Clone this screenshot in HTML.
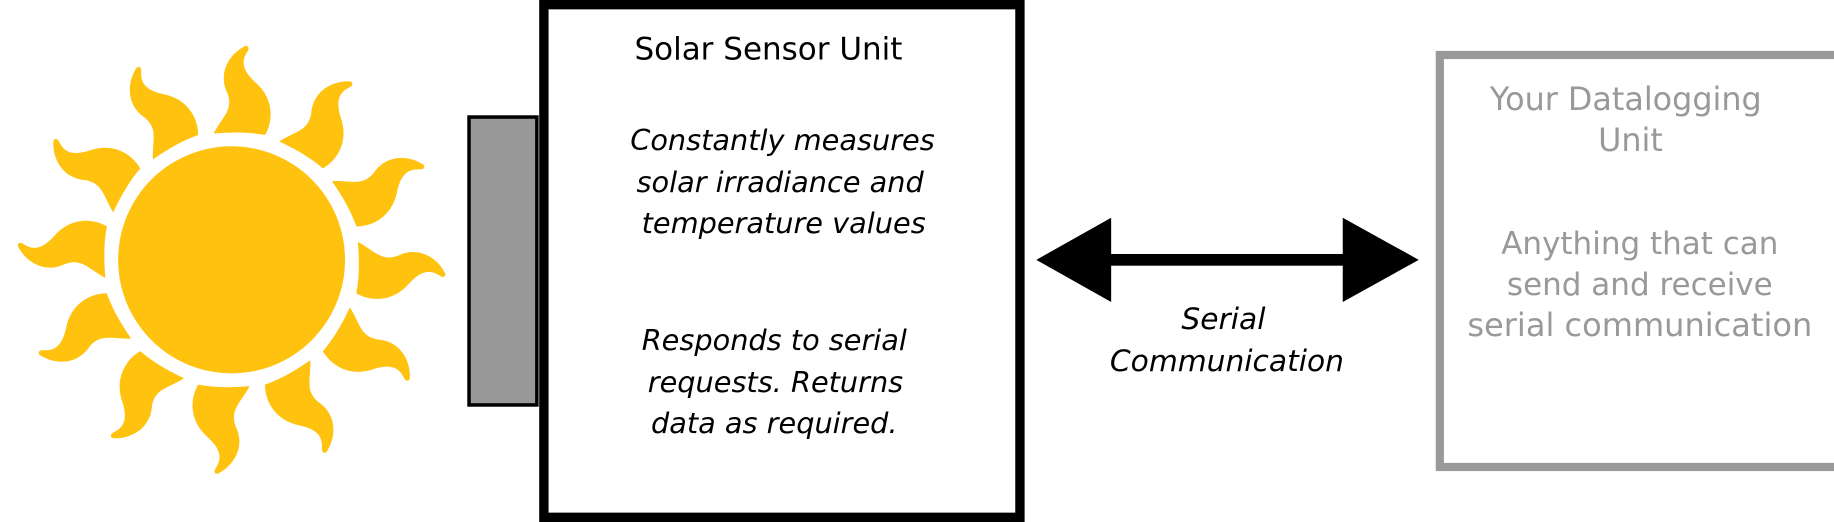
<!DOCTYPE html>
<html><head><meta charset="utf-8"><style>
html,body{margin:0;padding:0;background:#fff;width:1834px;height:522px;overflow:hidden}
svg{display:block}
text{font-family:"DejaVu Sans","Liberation Sans",sans-serif;font-size:26.5px}
.it{font-style:italic;font-size:24.6px}
.it2{font-style:italic;font-size:25.4px}
.g{fill:#999}
</style></head><body>
<svg width="1834" height="522" viewBox="0 0 1568 446" preserveAspectRatio="none" xmlns="http://www.w3.org/2000/svg">
<g id="sun">
<circle cx="198" cy="222" r="97" fill="#FFC20E"/>
</g>
<rect x="401" y="100" width="58" height="246" fill="#999" stroke="#000" stroke-width="3"/>
<rect x="465" y="4" width="407" height="438" fill="#fff" stroke="#000" stroke-width="8"/>
<text x="657" y="51" text-anchor="middle">Solar Sensor Unit</text>
<g text-anchor="middle">
<text x="669" y="128" class="it">Constantly measures</text>
<text x="667" y="164" class="it">solar irradiance and</text>
<text x="670" y="199" class="it">temperature values</text>
<text x="662" y="299" class="it">Responds to serial</text>
<text x="663" y="335" class="it">requests. Returns</text>
<text x="662" y="370" class="it">data as required.</text>
</g>
<g>
<rect x="948" y="217" width="202" height="10" fill="#000"/>
<polygon points="886,222 950,186 950,258" fill="#000"/>
<polygon points="1213,222 1148,186 1148,258" fill="#000"/>
</g>
<text class="it2" x="1046" y="281" text-anchor="middle">Serial</text>
<text class="it2" x="1049" y="317" text-anchor="middle">Communication</text>
<rect x="1231" y="47" width="345" height="352" fill="#fff" stroke="#999" stroke-width="7"/>
<text class="g" x="1390" y="94" text-anchor="middle" style="font-size:27.2px">Your Datalogging</text>
<text class="g" x="1394" y="129" text-anchor="middle" style="font-size:27.2px">Unit</text>
<g class="g" text-anchor="middle">
<text x="1402" y="217">Anything that can</text>
<text x="1402" y="252">send and receive</text>
<text x="1402" y="287" style="font-size:27.4px">serial communication</text>
</g>
</svg>
<script>
var sun=document.getElementById('sun');
var NS='http://www.w3.org/2000/svg';
for(var i=0;i<12;i++){
  var p=document.createElementNS(NS,'path');
  
  
  p.setAttribute('d','M -21,-107 C -14,-122 -5,-128 -11,-142 C -20,-158 -12,-175 2,-183 C 5,-184 6,-181 4,-178 C -2,-168 3,-160 13,-152 C 28,-140 30,-122 23,-108 C 8,-110 -6,-109 -21,-107 Z');
  p.setAttribute('fill','#FFC20E');
  p.setAttribute('transform','translate(198,222) rotate('+(i*30+3)+')');
  sun.appendChild(p);
}
</script>
</body></html>
